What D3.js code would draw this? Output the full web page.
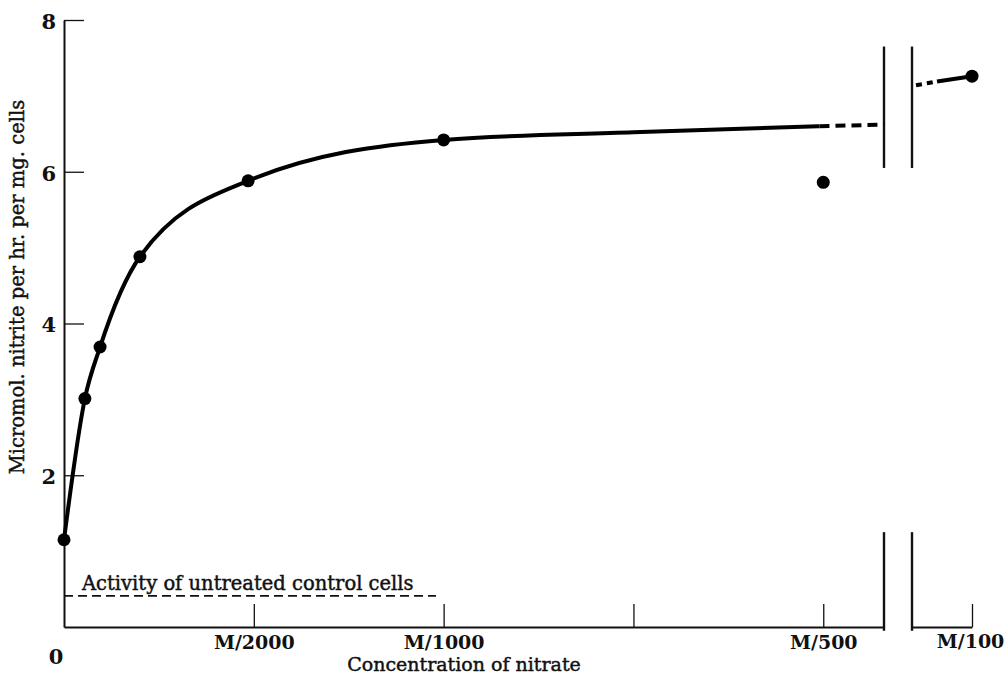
<!DOCTYPE html>
<html>
<head>
<meta charset="utf-8">
<script src="https://cdn.jsdelivr.net/npm/d3@7"></script>
<style>
  body { margin: 0; background: #fff; }
  text { font-family: "DejaVu Serif", "Liberation Serif", serif; fill: #111; }
  .thick { stroke: #111; stroke-width: 0.45px; }
</style>
</head>
<body>
<div id="chart"></div>
<script>
// measured points (molar concentration of nitrate, micromol nitrite / hr / mg cells)
const conc = [0, 0.000055, 0.000095, 0.0002, 0.000485, 0.001, 0.002];
const rate = [1.15, 3.01, 3.69, 4.88, 5.88, 6.42, 5.86];
// fitted curve drawn through the points
const curveConc = [0, 0.000055, 0.000095, 0.0002, 0.000485, 0.001, 0.0015, 0.00199];
const curveRate = [1.15, 3.01, 3.69, 4.88, 5.88, 6.42, 6.52, 6.6];
const tailConc = [0.00199, 0.00216];
const tailRate = [6.6, 6.62];
// part of the plot after the axis break
const highConc = [0.01];
const highRate = [7.26];
const highDashConc = [0.00944, 0.00965];
const highDashRate = [7.14, 7.19];
const highSolidConc = [0.00965, 0.01];
const highSolidRate = [7.19, 7.26];
const controlRate = 0.41;
const xTicks = [0.0005, 0.001, 0.0015, 0.002];
const xTickLabels = ["M/2000", "M/1000", "", "M/500"];
const yTicks = [2, 4, 6, 8];

const width = 1004, height = 676;
const svg = d3.select("#chart").append("svg").attr("width", width).attr("height", height);

const x = d3.scaleLinear().domain([0, 0.00216]).range([64, 884]);
const x2 = d3.scaleLinear().domain([0.0094, 0.01]).range([912, 972]);
const y = d3.scaleLinear().domain([0, 8]).range([627, 20]);

// axes
const yAxis = d3.axisLeft(y).tickValues(yTicks).tickSize(-20).tickSizeOuter(0).tickPadding(8);
const gy = svg.append("g").attr("transform", "translate(64,0)").call(yAxis);
gy.select(".domain").attr("stroke-width", 2).attr("stroke", "#111");
gy.selectAll(".tick line").attr("stroke-width", 1.3).attr("stroke", "#111");
gy.selectAll(".tick text").style("font-size", "21px").style("font-weight", "bold").attr("dy", "0.4em");

const xAxis = d3.axisBottom(x).tickValues(xTicks).tickFormat((d, i) => xTickLabels[i])
  .tickSize(-23).tickSizeOuter(0).tickPadding(9);
const gx = svg.append("g").attr("transform", "translate(0,627)").call(xAxis);
gx.select(".domain").attr("stroke-width", 2).attr("stroke", "#111");
gx.selectAll(".tick line").attr("stroke-width", 1.3).attr("stroke", "#111");
gx.selectAll(".tick text").style("font-size", "19px").style("font-weight", "bold");

const xAxis2 = d3.axisBottom(x2).tickValues(highConc).tickFormat(() => "M/100")
  .tickSize(-23).tickSizeOuter(0).tickPadding(8);
const gx2 = svg.append("g").attr("transform", "translate(0,627)").call(xAxis2);
gx2.select(".domain").attr("stroke-width", 2).attr("stroke", "#111");
gx2.selectAll(".tick line").attr("stroke-width", 1.3).attr("stroke", "#111");
gx2.selectAll(".tick text").style("font-size", "19px").style("font-weight", "bold").attr("dx", "-2");

svg.append("text").attr("x", x(0) - 8).attr("y", 664).attr("text-anchor", "middle")
  .style("font-size", "21px").style("font-weight", "bold").text("0");

// axis break marks
const breakXs = [x(0.00216), x2(0.0094)];
const breakSpans = [[7.65, 6.05], [1.25, -0.05]];
breakXs.forEach(bx => {
  breakSpans.forEach(s => {
    svg.append("line").attr("x1", bx).attr("x2", bx).attr("y1", y(s[0])).attr("y2", y(s[1]))
      .attr("stroke", "#111").attr("stroke-width", 2.4);
  });
});

// control level
svg.append("line").attr("x1", x(0)).attr("x2", x(0.00098))
  .attr("y1", y(controlRate)).attr("y2", y(controlRate))
  .attr("stroke", "#111").attr("stroke-width", 1.8).attr("stroke-dasharray", "9,5");
svg.append("text").attr("class", "thick").attr("x", 82).attr("y", y(controlRate) - 6)
  .style("font-size", "19.5px").text("Activity of untreated control cells");

// curves
const line = d3.line().x(d => x(d[0])).y(d => y(d[1])).curve(d3.curveMonotoneX);
const line2 = d3.line().x(d => x2(d[0])).y(d => y(d[1]));
svg.append("path").datum(d3.zip(curveConc, curveRate)).attr("d", line)
  .attr("fill", "none").attr("stroke", "#000").attr("stroke-width", 4);
svg.append("path").datum(d3.zip(tailConc, tailRate)).attr("d", d3.line().x(d => x(d[0])).y(d => y(d[1])))
  .attr("fill", "none").attr("stroke", "#000").attr("stroke-width", 4).attr("stroke-dasharray", "10,6");
svg.append("path").datum(d3.zip(highDashConc, highDashRate)).attr("d", line2)
  .attr("fill", "none").attr("stroke", "#000").attr("stroke-width", 4).attr("stroke-dasharray", "6,5");
svg.append("path").datum(d3.zip(highSolidConc, highSolidRate)).attr("d", line2)
  .attr("fill", "none").attr("stroke", "#000").attr("stroke-width", 4);

// points
svg.selectAll("circle.pt").data(d3.zip(conc, rate)).enter().append("circle")
  .attr("class", "pt").attr("cx", d => x(d[0])).attr("cy", d => y(d[1])).attr("r", 6.5).attr("fill", "#000");
svg.selectAll("circle.hi").data(d3.zip(highConc, highRate)).enter().append("circle")
  .attr("class", "hi").attr("cx", d => x2(d[0])).attr("cy", d => y(d[1])).attr("r", 6.5).attr("fill", "#000");

// axis titles
svg.append("text").attr("class", "thick").attr("x", 464).attr("y", 671).attr("text-anchor", "middle")
  .style("font-size", "19px").text("Concentration of nitrate");
svg.append("text").attr("class", "thick").attr("transform", "translate(24,287) rotate(-90)").attr("text-anchor", "middle")
  .style("font-size", "19.5px").text("Micromol. nitrite per hr. per mg. cells");
</script>
</body>
</html>
